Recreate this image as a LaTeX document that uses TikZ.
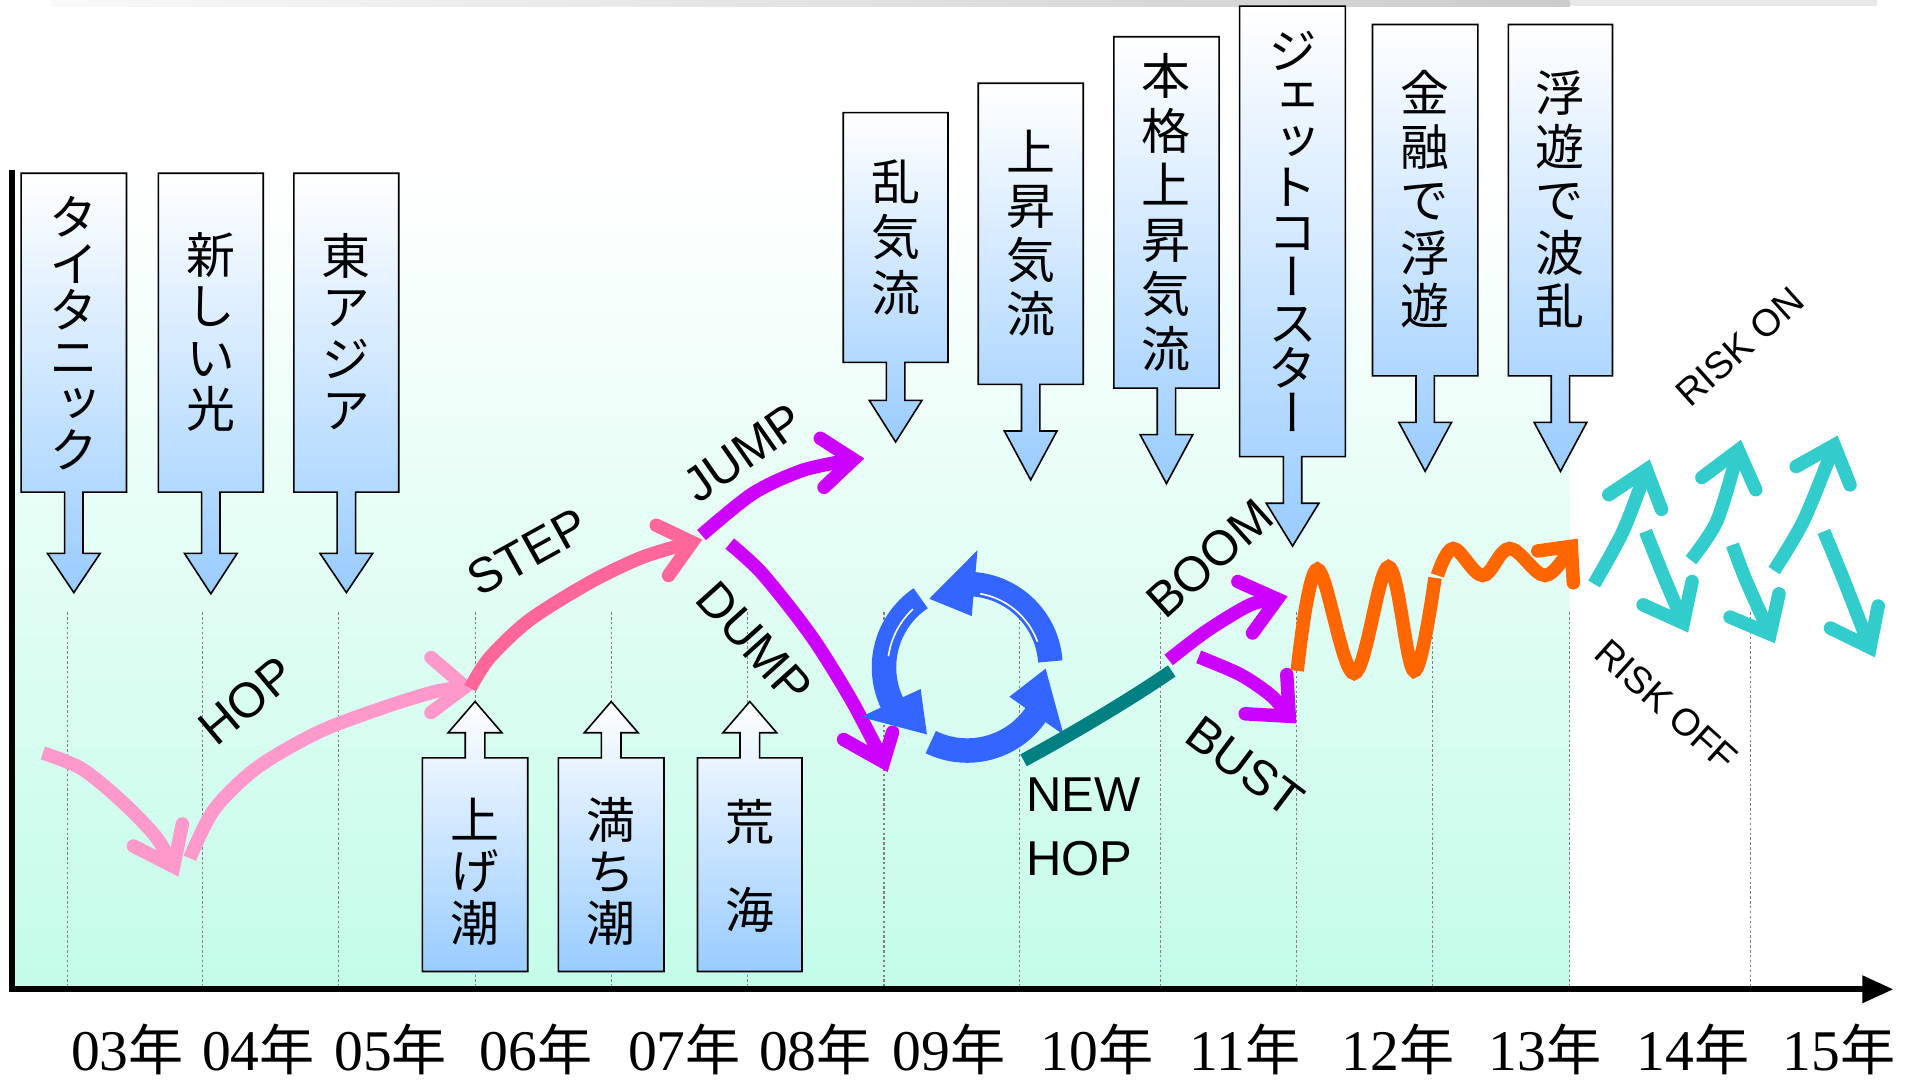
\documentclass[tikz,border=0pt]{standalone}
\usepackage{fontspec}
\newfontfamily\jpv[RawFeature=+vert]{Noto Sans CJK JP}
\newfontfamily\jpf{Noto Sans CJK JP}
\newfontfamily\labf{Liberation Sans}
\newfontfamily\yrf{Liberation Serif}
\usetikzlibrary{calc}
\definecolor{calblue}{RGB}{153,204,255}
\definecolor{mint}{RGB}{196,252,233}
\definecolor{hoppink}{RGB}{255,153,204}
\definecolor{steppink}{RGB}{255,102,153}
\definecolor{purp}{RGB}{204,0,255}
\definecolor{tealc}{RGB}{0,128,128}
\definecolor{orng}{RGB}{255,102,0}
\definecolor{cyanc}{RGB}{51,204,204}
\definecolor{bluec}{RGB}{51,102,255}
\newcommand\DownCO[7]{%
 \draw[calloutbox] (#1,#3) -- (#2,#3) -- (#2,#4) -- (#5+7.5,#4) -- (#5+7.5,#6) -- (#5+21.5,#6) -- (#5,#7) -- (#5-21.5,#6) -- (#5-7.5,#6) -- (#5-7.5,#4) -- (#1,#4) -- cycle;}
\newcommand\UpCO[7]{%
 \draw[calloutbox] (#1,#3) -- (#5-8,#3) -- (#5-8,#6) -- (#5-22,#6) -- (#5,#7) -- (#5+22,#6) -- (#5+8,#6) -- (#5+8,#3) -- (#2,#3) -- (#2,#4) -- (#1,#4) -- cycle;}
\begin{document}
\begin{tikzpicture}[x=1pt,y=-1pt,
 calloutbox/.style={draw=black, line width=1.3pt, line join=miter, top color=white, bottom color=calblue},
 vtext/.style={align=center, inner sep=0pt, font=\jpv\fontsize{40}{#1}\selectfont},
 lbl/.style={inner sep=0pt, font=\labf\fontsize{40}{42}\selectfont},
 risk/.style={inner sep=0pt, font=\labf\fontsize{31}{34}\selectfont},
 yr/.style={anchor=base, inner sep=0pt},
 shaft/.style={line width=11pt, line cap=butt},
 barb/.style={line width=11pt, line cap=round, line join=miter, miter limit=10},
 gridline/.style={gray, line width=0.9pt, dash pattern=on 2pt off 2pt},
]
\useasboundingbox (0,0) rectangle (1560,882);
% background
\shade[top color=white, bottom color=mint] (10,140) rectangle (1282,808);
\shade[left color=gray!5, right color=gray!40] (42,0) rectangle (1282,5);
\fill[gray!18] (1282,0) rectangle (1533,5);
% grid
\foreach \xx in {55,165.7,276.7,388,499.3,610.7,722,833,948,1059,1170,1282,1430}
  \draw[gridline] (\xx,500) -- (\xx,808);
% down callouts
\DownCO{17.3}{103.3}{141.5}{402}{60.3}{452}{484}
\DownCO{129.3}{215}{141.5}{402}{172.2}{452}{485}
\DownCO{240}{325.7}{141.5}{402}{282.9}{452}{484}
\DownCO{688.7}{774.3}{92}{296}{731.5}{327}{361}
\DownCO{799}{884.7}{68}{314}{841.8}{352}{392}
\DownCO{909.7}{995.7}{30}{317}{952.7}{355}{395}
\DownCO{1012.5}{1098.8}{5}{373}{1055.7}{411}{446}
\DownCO{1121}{1207}{20}{307}{1164}{345}{385}
\DownCO{1232}{1317}{20}{307}{1274.5}{345}{385}
% up callouts
\UpCO{345}{431}{619}{793.5}{388}{598.5}{573}
\UpCO{456}{542.3}{619}{793.5}{499.2}{598.5}{573}
\UpCO{569.7}{655}{619}{793.5}{612.4}{598.5}{573}
% callout texts
\node[vtext=38] (t1) at (60.3,272) {タ\\イ\\タ\\ニ\\ッ\\ク};
\node[vtext=42] (t2) at (172.2,271) {新\\し\\い\\光};
\node[vtext=42] (t3) at (282.9,271) {東\\ア\\ジ\\ア};
\node[vtext=45] (t4) at (731.5,194) {乱\\気\\流};
\node[vtext=44] (t5) at (841.8,190.5) {上\\昇\\気\\流};
\node[vtext=44.6] (t6) at (952.7,173.5) {本\\格\\上\\昇\\気\\流};
\node[vtext=37] (t7) at (1055.7,189) {ジ\\ェ\\ッ\\ト\\コ\\ー\\ス\\タ\\ー};
\node[vtext=43.5] (t8) at (1164,163) {金\\融\\で\\浮\\遊};
\node[vtext=43.5] (t9) at (1274.5,163) {浮\\遊\\で\\波\\乱};
\node[vtext=42] (u1) at (388,712) {上\\げ\\潮};
\node[vtext=42] (u2) at (499.2,712) {満\\ち\\潮};
\node[vtext=72] (u3) at (612.4,707) {荒\\海};
% HOP
\draw[hoppink, shaft] plot[smooth] coordinates {(35,615) (67,628) (100,655) (127,683) (141.8,707.8)};
\draw[hoppink, barb] (109,691) -- (141.8,707.8) -- (149,673);
\draw[hoppink, shaft] plot[smooth] coordinates {(155,701) (175,661) (210,627) (260,598) (313,578) (355,565) (380,561)};
\draw[hoppink, barb] (352,537) -- (380,561) -- (352,582);
% STEP
\draw[steppink, shaft] plot[smooth] coordinates {(384,562) (400,537) (433,506) (483,475) (525,455) (565.3,442.9)};
\draw[steppink, barb] (536,429) -- (565.3,442.9) -- (546,470);
% JUMP
\draw[purp, shaft] plot[smooth] coordinates {(573,437) (615,403) (656,384) (697,375.3)};
\draw[purp, barb] (670,358) -- (697,375.3) -- (673,398);
% DUMP
\draw[purp, shaft] plot[smooth] coordinates {(596,444) (623,469) (663,520) (696,573) (721.7,622.4)};
\draw[purp, barb] (689,604) -- (721.7,622.4) -- (729,598);
% recycle
\coordinate (rc) at (790,545);
\foreach \a in {0,120,240} {
  \draw[bluec, line width=20pt] ($(rc)+(\a+4:68pt)$) arc[start angle=\a+4, end angle=\a+86, radius=68pt];
  \fill[bluec] ($(rc)+(\a+85:96pt)$) -- ($(rc)+(\a+85:42pt)$) -- ($(rc)+(\a+119:64pt)$) -- cycle;
}
\draw[white, line width=1.3pt] ($(rc)+(20:61pt)$) arc[start angle=20, end angle=80, radius=61pt];
\draw[white, line width=1.3pt] ($(rc)+(133:65pt)$) arc[start angle=133, end angle=172, radius=65pt];
% NEW HOP
\draw[tealc, line width=11pt] (836,621) .. controls (880,597) and (925,570) .. (957,548);
% BOOM / BUST
\draw[purp, shaft] plot[smooth] coordinates {(954.5,539) (986,515) (1021,494) (1043.2,489.3)};
\draw[purp, barb] (1011,475) -- (1043.2,489.3) -- (1023,517);
\draw[purp, shaft] plot[smooth] coordinates {(979,536.5) (1013,551) (1038,568) (1053,585)};
\draw[purp, barb] (1017,583) -- (1053,585) -- (1051,551);
% orange waves
\draw[orng, line width=11pt] plot[smooth, tension=0.6] coordinates {(1059.5,548) (1076,465) (1106,550) (1134,463) (1155,548) (1172,472)};
\draw[orng, line width=11pt] plot[smooth, tension=0.6] coordinates {(1174,470) (1187,448) (1211,470) (1233,448) (1262,470) (1283.4,446.2)};
\draw[orng, barb] (1256,450) -- (1283.4,446.2) -- (1285,476);
% cyan risk on/off
\draw[cyanc, shaft] plot[smooth] coordinates {(1302,477) (1326,433) (1344.7,383.6)};
\draw[cyanc, barb] (1314,404) -- (1344.7,383.6) -- (1357,416);
\draw[cyanc, shaft] plot[smooth] coordinates {(1344,434) (1357.6,468) (1374.8,508.8)};
\draw[cyanc, barb] (1342,494) -- (1374.8,508.8) -- (1382,475);
\draw[cyanc, shaft] plot[smooth] coordinates {(1381,457.5) (1402.5,425) (1419.7,367.7)};
\draw[cyanc, barb] (1390,390) -- (1419.7,367.7) -- (1434,400);
\draw[cyanc, shaft] plot[smooth] coordinates {(1415,445) (1426,474) (1445.7,517.8)};
\draw[cyanc, barb] (1413,504) -- (1445.7,517.8) -- (1453,485);
\draw[cyanc, shaft] plot[smooth] coordinates {(1449,466) (1473.3,424.8) (1498.1,363.6)};
\draw[cyanc, barb] (1467,381) -- (1498.1,363.6) -- (1511,396);
\draw[cyanc, shaft] plot[smooth] coordinates {(1489.6,434) (1506,474) (1527.3,528.8)};
\draw[cyanc, barb] (1495,513) -- (1527.3,528.8) -- (1534,495);
% labels
\node[lbl, rotate=40] (hop) at (201.5,572.5) {HOP};
\node[lbl, rotate=29] (step) at (431,451) {STEP};
\node[lbl, rotate=35] (jump) at (607,370) {JUMP};
\node[lbl, rotate=-48] (dump) at (616,525) {DUMP};
\node[lbl, rotate=42] (boom) at (988,456) {BOOM};
\node[lbl, rotate=-37] (bust) at (1017,626) {BUST};
\node[risk, rotate=42] (ron) at (1421,283) {RISK ON};
\node[risk, rotate=-42] (roff) at (1361,576) {RISK OFF};
\node[lbl, anchor=base west] (new) at (838,663) {NEW};
\node[lbl, anchor=base west] (nhop) at (838,715) {HOP};
% axes
\draw[line width=5pt] (10,139) -- (10,810.5);
\draw[line width=5pt] (7.5,808) -- (1523,808);
\fill (1521,796.5) -- (1546,808) -- (1521,819.5) -- cycle;
% years
\foreach \xx/\yy in {104/03,211/04,319/05,438/06,559/07,666/08,775/09,896/10,1017/11,1142/12,1262/13,1383/14,1502/15}
  \node[yr] (y\yy) at (\xx,874) {{\yrf\fontsize{47}{50}\selectfont \yy}{\jpf\fontsize{45}{50}\selectfont 年}};
\end{tikzpicture}
\end{document}
